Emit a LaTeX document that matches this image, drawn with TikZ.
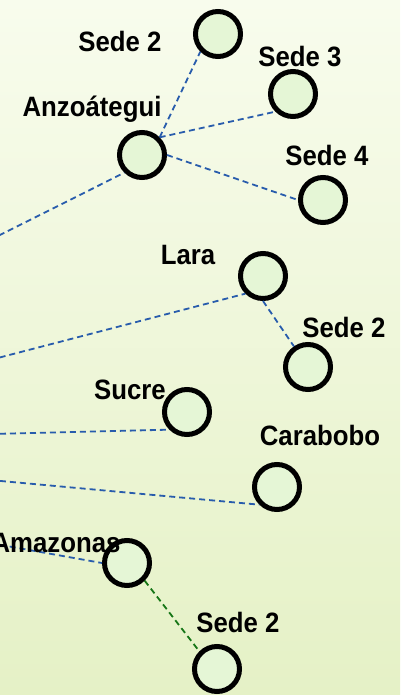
\documentclass[tikz,border=0pt]{standalone}
\usepackage{fontspec}
\setmainfont{Liberation Sans}
\newfontfamily\tagfamily[FakeStretch=0.92]{Liberation Sans}
\usetikzlibrary{positioning}
\definecolor{bgtop}{RGB}{248,252,237}
\definecolor{bgbot}{RGB}{229,241,198}
\definecolor{sedefill}{RGB}{229,246,214}
\definecolor{linkblue}{RGB}{40,92,172}
\definecolor{linkgreen}{RGB}{22,118,22}

\begin{document}
\begin{tikzpicture}[x=1pt,y=-1pt,
  sede/.style={circle,draw=black,line width=5pt,fill=sedefill,minimum size=45pt,inner sep=0pt},
  tag/.style={font=\tagfamily\bfseries\fontsize{28}{30}\selectfont,inner sep=0pt,anchor=base},
  link/.style={draw=linkblue,line width=1.8pt,dash pattern=on 6pt off 4pt},
  greenlink/.style={link,draw=linkgreen}]
\shade[top color=bgtop,bottom color=bgbot] (0,0) rectangle (400,695);
\clip (0,0) rectangle (400,695);
% sedes
\node[sede] (s2) at (218,34) {};
\node[sede] (s3) at (293,94) {};
\node[sede] (anz) at (142,155) {};
\node[sede] (s4) at (323,200) {};
\node[sede] (lara) at (263,276) {};
\node[sede] (ls2) at (308,367) {};
\node[sede] (suc) at (187,412) {};
\node[sede] (cara) at (277,487) {};
\node[sede] (ama) at (127,563) {};
\node[sede] (as2) at (217,669) {};
% entradas desde la izquierda
\coordinate (inanz) at (-10,240);
\coordinate (inlara) at (-10,360);
\coordinate (insuc) at (-10,434);
\coordinate (incara) at (-10,480);
\coordinate (inama) at (-10,543);
\path[link] (inanz) -- (anz.south west);
\path[link] (anz.north east) -- (s2.south west);
\path[link] (anz.north east) -- (s3.south west);
\path[link] (anz.east) -- (s4.west);
\path[link] (inlara) -- (lara.south west);
\path[link] (lara.south) -- (ls2);
\path[link] (insuc) -- (suc.south west);
\path[link] (incara) -- (cara.south west);
\path[link] (inama) -- (ama.west);
\path[greenlink] (ama.south east) -- (as2.north west);
% nombres
\node[tag] (ts2) at (120,52) {Sede 2};
\node[tag] (ts3) at (300,67) {Sede 3};
\node[tag] (tanz) at (92,117) {Anzoátegui};
\node[tag] (ts4) at (327,165) {Sede 4};
\node[tag] (tlara) at (188,264) {Lara};
\node[tag] (tls2) at (344,337) {Sede 2};
\node[tag] (tsuc) at (130,399) {Sucre};
\node[tag] (tcara) at (320,445) {Carabobo};
\node[tag] (tama) at (56,552) {Amazonas};
\node[tag] (tas2) at (238,632) {Sede 2};
\end{tikzpicture}
\end{document}
